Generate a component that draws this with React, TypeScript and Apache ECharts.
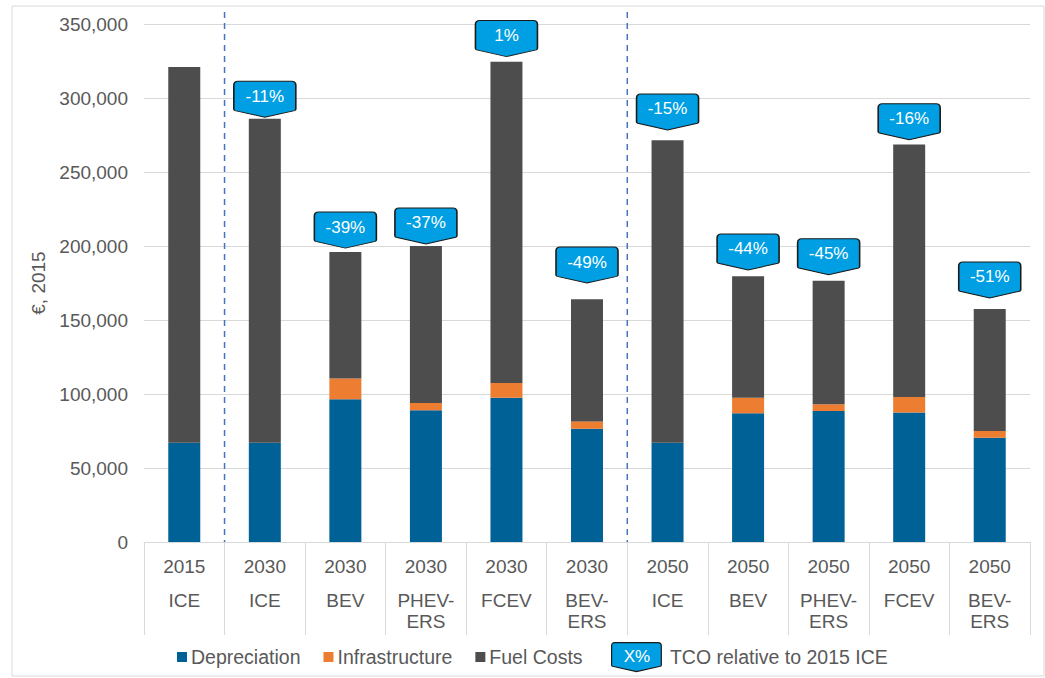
import React, { useEffect, useRef } from "react";
import * as echarts from "echarts";

const years = ["2015", "2030", "2030", "2030", "2030", "2030", "2050", "2050", "2050", "2050", "2050"];
const types = ["ICE", "ICE", "BEV", "PHEV-ERS", "FCEV", "BEV-ERS", "ICE", "BEV", "PHEV-ERS", "FCEV", "BEV-ERS"];
const categories = years.map((y, i) => `${y} ${types[i]}`);

const depreciation = [67000, 67000, 96500, 89000, 97500, 76500, 67000, 87000, 88500, 87500, 70500];
const infrastructure = [0, 0, 14000, 5000, 10000, 5000, 0, 10500, 4500, 10500, 4500];
const fuelCosts = [254000, 219000, 85500, 106000, 217000, 82500, 204500, 82000, 83500, 170500, 82500];

// TCO relative to 2015 ICE (callouts), and the value at which each callout's tip sits
const tcoLabels = ["", "-11%", "-39%", "-37%", "1%", "-49%", "-15%", "-44%", "-45%", "-16%", "-51%"];
const calloutAnchor = [null, 287000, 198600, 201400, 328000, 175000, 278400, 183800, 180600, 271800, 164900];

// group separators: after category index
const separators = [0, 5];

const yTicks = { min: 0, max: 350000, interval: 50000 };

const FONT = "Liberation Sans, Arial, sans-serif";
const TEXT = "#595959";
const GRID = "#d9d9d9";

const CALLOUT_PATH =
  "path://M4,0 L56,0 Q60,0 60,4 L60,27 Q60,28.2 58.8,28.5 L30,35 L1.2,28.5 Q0,28.2 0,27 L0,4 Q0,0 4,0 Z";

export default function App() {
  const ref = useRef<HTMLDivElement>(null);

  useEffect(() => {
    if (!ref.current) return;
    const chart = echarts.init(ref.current, null, { renderer: "svg" });

    const option: any = {
      animation: false,
      backgroundColor: "#ffffff",
      textStyle: { fontFamily: FONT },
      grid: { left: 144, right: 15, top: 24, bottom: 136, containLabel: false },
      legend: [
        {
          data: ["Depreciation", "Infrastructure", "Fuel Costs"],
          left: 172,
          top: 642,
          itemWidth: 10,
          itemHeight: 10,
          itemGap: 23,
          icon: "rect",
          textStyle: { color: TEXT, fontSize: 19.5, fontFamily: FONT, padding: [0, 0, 0, -1] },
        },
        {
          data: [
            {
              name: "TCO relative to 2015 ICE",
              icon: CALLOUT_PATH,
              itemStyle: { color: "#009FE3", borderColor: "#1a1a1a", borderWidth: 1.2 },
            },
          ],
          left: 606,
          top: 637,
          itemWidth: 51,
          itemHeight: 29,
          textStyle: { color: TEXT, fontSize: 19.5, fontFamily: FONT, padding: [0, 0, 0, 3] },
        },
      ],
      xAxis: {
        type: "category",
        data: categories,
        boundaryGap: true,
        axisLine: { lineStyle: { color: GRID, width: 1 } },
        axisTick: { show: true, interval: 0, length: 93, alignWithLabel: false, lineStyle: { color: GRID } },
        axisLabel: {
          interval: 0,
          margin: 0,
          formatter: (_v: string, i: number) => {
            const t = types[i].replace("-", "-\n").split("\n").map((s) => `{t|${s}}`).join("\n");
            return `{y|${years[i]}}\n${t}`;
          },
          rich: {
            y: { fontSize: 19, color: TEXT, lineHeight: 48, fontFamily: FONT, align: "center" },
            t: { fontSize: 19, color: TEXT, lineHeight: 21, fontFamily: FONT, align: "center" },
          },
        },
        splitLine: { show: false },
      },
      yAxis: {
        type: "value",
        min: yTicks.min,
        max: yTicks.max,
        interval: yTicks.interval,
        name: "€, 2015",
        nameLocation: "middle",
        nameGap: 94,
        nameTextStyle: { color: TEXT, fontSize: 19, fontFamily: FONT },
        axisLine: { show: false },
        axisTick: { show: false },
        axisLabel: {
          color: TEXT,
          fontSize: 19,
          margin: 16,
          fontFamily: FONT,
          formatter: (v: number) => v.toLocaleString("en-US"),
        },
        splitLine: { lineStyle: { color: GRID, width: 1 } },
      },
      series: [
        {
          name: "Depreciation",
          type: "bar",
          stack: "tco",
          barWidth: 32,
          data: depreciation,
          itemStyle: { color: "#006196" },
        },
        {
          name: "Infrastructure",
          type: "bar",
          stack: "tco",
          barWidth: 32,
          data: infrastructure,
          itemStyle: { color: "#ED7D31" },
        },
        {
          name: "Fuel Costs",
          type: "bar",
          stack: "tco",
          barWidth: 32,
          data: fuelCosts,
          itemStyle: { color: "#4D4D4D" },
        },
        {
          name: "TCO relative to 2015 ICE",
          type: "scatter",
          z: 5,
          symbol: CALLOUT_PATH,
          symbolSize: [62, 36],
          symbolOffset: [0, -18],
          itemStyle: { color: "#009FE3", borderColor: "#1a1a1a", borderWidth: 1.2, opacity: 1 },
          label: {
            show: true,
            position: "inside",
            offset: [0, -3],
            color: "#ffffff",
            fontSize: 17,
            fontFamily: FONT,
            formatter: (p: any) => tcoLabels[p.dataIndex],
          },
          data: calloutAnchor.map((v, i) => (v == null ? [i, "-"] : [i, v])),
        },
        {
          name: "separators",
          type: "custom",
          z: 1,
          renderItem: (_params: any, api: any) => {
            const idx = api.value(0);
            const a = api.coord([idx, 0]);
            const b = api.coord([idx + 1, 0]);
            const top = api.coord([idx, yTicks.max]);
            const x = (a[0] + b[0]) / 2;
            return {
              type: "line",
              shape: { x1: x, y1: top[1] - 12, x2: x, y2: a[1] },
              style: { stroke: "#4472C4", lineWidth: 1.5, lineDash: [6, 5] },
            };
          },
          data: separators.map((s) => [s, 0]),
          silent: true,
        },
      ],
      graphic: [
        {
          type: "rect",
          shape: { x: 12, y: 6, width: 1032, height: 670 },
          style: { fill: "none", stroke: GRID, lineWidth: 1 },
          silent: true,
          z: -1,
        },
        {
          type: "text",
          x: 637,
          y: 656,
          style: {
            text: "X%",
            fill: "#ffffff",
            fontSize: 17,
            fontFamily: FONT,
            align: "center",
            verticalAlign: "middle",
          },
          z: 100,
        },
      ],
    };

    chart.setOption(option);
    return () => chart.dispose();
  }, []);

  return (
    <div
      ref={ref}
      style={{ position: "fixed", left: 0, top: 0, width: 1045, height: 678, background: "#fff" }}
    />
  );
}
